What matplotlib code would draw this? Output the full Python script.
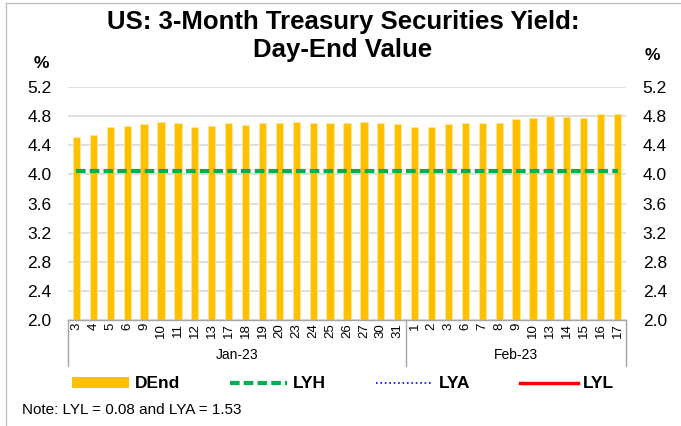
import matplotlib
matplotlib.use("Agg")
import matplotlib.pyplot as plt
from matplotlib.lines import Line2D
from matplotlib.patches import Patch
import numpy as np

plt.rcParams['font.family'] = ['Liberation Sans', 'DejaVu Sans']

days = ["3", "4", "5", "6", "9", "10", "11", "12", "13", "17", "18", "19", "20",
        "23", "24", "25", "26", "27", "30", "31",
        "1", "2", "3", "6", "7", "8", "9", "10", "13", "14", "15", "16", "17"]
months = ["Jan-23", "Feb-23"]
month_counts = [20, 13]
dend = [4.52, 4.54, 4.65, 4.66, 4.69, 4.72, 4.71, 4.65, 4.66, 4.70, 4.68, 4.70, 4.71,
        4.72, 4.71, 4.71, 4.70, 4.72, 4.71, 4.69,
        4.65, 4.65, 4.69, 4.70, 4.70, 4.71, 4.76, 4.78, 4.80, 4.79, 4.78, 4.83, 4.83]
lyh = 4.04
lya = 1.53
lyl = 0.08
yticks = [2.0, 2.4, 2.8, 3.2, 3.6, 4.0, 4.4, 4.8, 5.2]

W, H = 681, 426
fig = plt.figure(figsize=(W / 100, H / 100), dpi=100)
L, R, T, B = 68, 626, 87, 320
ax = fig.add_axes([L / W, 1 - B / H, (R - L) / W, (B - T) / H])

x = np.arange(len(dend))
ax.bar(x, dend, width=0.43, color='#FFC000', edgecolor='#FFE699', linewidth=0.6, zorder=2)
ax.plot(x, [lyh] * len(x), color='#00B050', linestyle=(0, (2.3, 1.0)), linewidth=3, zorder=3)
ax.plot(x, [lya] * len(x), color='#0000FF', linestyle=':', linewidth=1.2, zorder=3)
ax.plot(x, [lyl] * len(x), color='#FF0000', linewidth=2.5, zorder=3)

ax.set_xlim(-0.5, len(dend) - 0.5)
ax.set_ylim(2.0, 5.2)
ax.set_yticks(yticks)
ax.set_yticklabels([f"{v:.1f}" for v in yticks], fontsize=12.5)
ax.tick_params(axis='y', length=0, pad=12, labelright=True, right=False, left=False)
ax.yaxis.grid(True, color='#D9D9D9', linewidth=1.2, zorder=0)
ax.set_axisbelow(True)
for s in ['top', 'left', 'right']:
    ax.spines[s].set_visible(False)
ax.spines['bottom'].set_color('#A6A6A6')
ax.spines['bottom'].set_linewidth(1)

ax.set_xticks(x)
ax.set_xticklabels(days, rotation=90, fontsize=9.5, va='top', ha='center')
ax.tick_params(axis='x', length=0, pad=2)

# month grouping lines and labels
bounds = [0]
for c in month_counts:
    bounds.append(bounds[-1] + c)
trans = ax.get_xaxis_transform()
for bnd in bounds:
    xb = bnd - 0.5
    ax.add_line(Line2D([xb, xb], [0, -(366 - B) / (B - T)], transform=trans,
                       color='#A6A6A6', linewidth=1, clip_on=False))
for i, m in enumerate(months):
    xc = (bounds[i] + bounds[i + 1] - 1) / 2
    ax.text(xc, -(355 - B) / (B - T), m, transform=trans, ha='center', va='center', fontsize=10)

# title
cx = 343 / W
fig.text(cx, 1 - 22 / H, "US: 3-Month Treasury Securities Yield:", ha='center', va='center',
         fontsize=18.5, fontweight='bold')
fig.text(cx, 1 - 50 / H, "Day-End Value", ha='center', va='center',
         fontsize=18.5, fontweight='bold')
fig.text(41 / W, 1 - 63 / H, "%", ha='center', va='center', fontsize=12.5, fontweight='bold')
fig.text(652 / W, 1 - 55 / H, "%", ha='center', va='center', fontsize=12.5, fontweight='bold')

# legend
handles = [Patch(facecolor='#FFC000', edgecolor='none'),
           Line2D([], [], color='#00B050', linestyle=(0, (2.3, 1.0)), linewidth=3),
           Line2D([], [], color='#0000FF', linestyle=':', linewidth=1.2),
           Line2D([], [], color='#FF0000', linewidth=2.5)]
leg = fig.legend(handles, ["DEnd", "LYH", "LYA", "LYL"], loc='center', ncol=4,
                 bbox_to_anchor=(343 / W, 1 - 384 / H), frameon=False,
                 prop={'weight': 'bold', 'size': 12.5}, handlelength=3.3, handleheight=0.6,
                 columnspacing=2.9, handletextpad=0.3)

fig.text(22 / W, 1 - 410 / H, "Note: LYL = 0.08 and LYA = 1.53", ha='left', va='center', fontsize=11)

# outer frame
fig.add_artist(Line2D([6 / W, 1], [1 - 3 / H, 1 - 3 / H], transform=fig.transFigure, color='#BFBFBF', linewidth=1))
fig.add_artist(Line2D([6 / W, 6 / W], [0, 1 - 3 / H], transform=fig.transFigure, color='#BFBFBF', linewidth=1))

fig.savefig("out.png", dpi=100)
